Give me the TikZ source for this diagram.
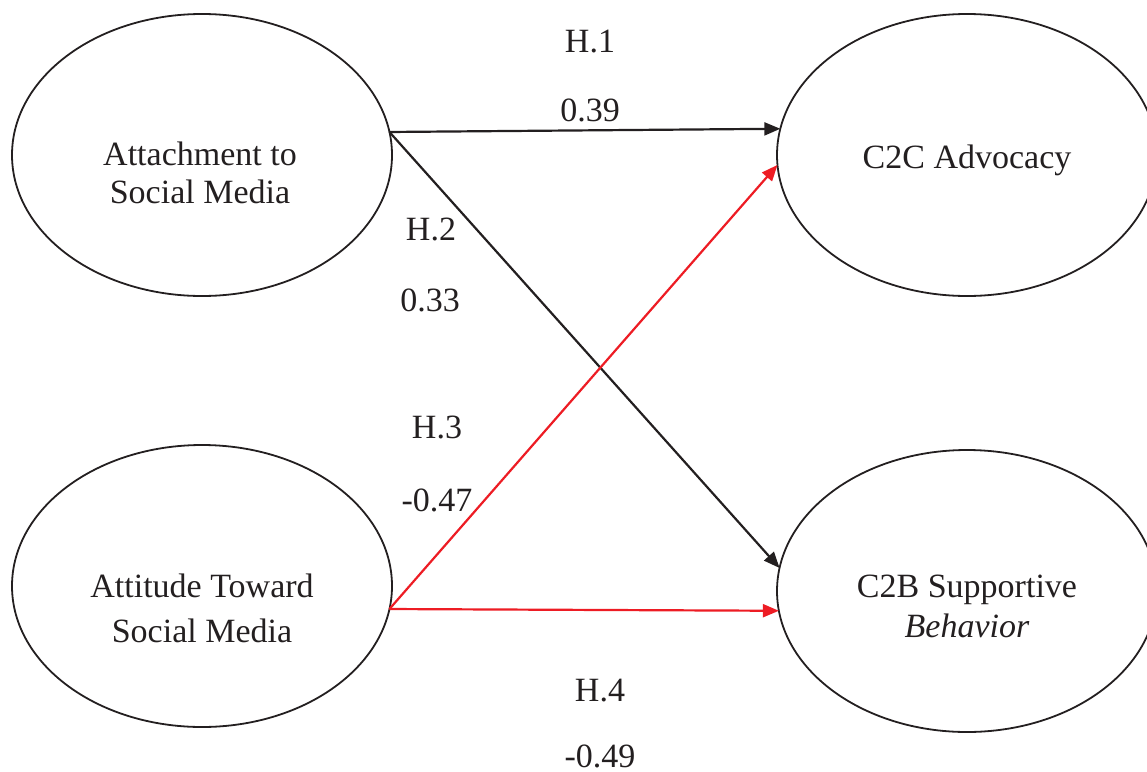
\documentclass[tikz,border=0pt]{standalone}
\usepackage{fontspec}
\setmainfont{Liberation Serif}
\usetikzlibrary{shapes.geometric,arrows.meta}
\definecolor{ink}{RGB}{35,31,32}
\definecolor{redline}{RGB}{237,28,36}
\tikzset{
  construct/.style={ellipse, draw=ink, line width=1.8pt, minimum width=380pt, minimum height=282pt,
    inner sep=0pt, outer sep=0pt},
  path/.style={line width=2.2pt, -{Triangle[length=16pt,width=13pt]}},
  blackpath/.style={path, draw=ink},
  redpath/.style={path, draw=redline},
  lbl/.style={anchor=base, text=ink, inner sep=0pt, font=\fontsize{34}{38}\selectfont}
}
\begin{document}
\begin{tikzpicture}[x=1pt,y=-1pt]
\useasboundingbox (0,0) rectangle (1147,771);
\node[construct] (A) at (202,155) {};
\node[construct] (B) at (202,586) {};
\node[construct] (C) at (967,155) {};
\node[construct] (D) at (967,591) {};
\node[lbl] (A1) at (200,165) {Attachment to};
\node[lbl] (A2) at (200,203) {Social Media};
\node[lbl] (B1) at (202,597) {Attitude Toward};
\node[lbl] (B2) at (202,642) {Social Media};
\node[lbl] (C1) at (967,168) {C2C Advocacy};
\node[lbl] (D1) at (967,597) {C2B Supportive};
\node[lbl] (D2) at (967,637) {\textit{Behavior}};
\draw[blackpath] (A.7.8) -- (C.172.2);
\draw[blackpath] (A.7.8) -- (D.173.4);
\draw[redpath] (B.-7.5) -- (C.183);
\draw[redpath] (B.-7.5) -- (D.186);
\node[lbl] (h1) at (590,52) {H.1};
\node[lbl] (v1) at (590,121) {0.39};
\node[lbl] (h2) at (431,240) {H.2};
\node[lbl] (v2) at (430,311) {0.33};
\node[lbl] (h3) at (437,438) {H.3};
\node[lbl] (v3) at (437,511) {-0.47};
\node[lbl] (h4) at (600,701) {H.4};
\node[lbl] (v4) at (600,767) {-0.49};
\end{tikzpicture}
\end{document}
